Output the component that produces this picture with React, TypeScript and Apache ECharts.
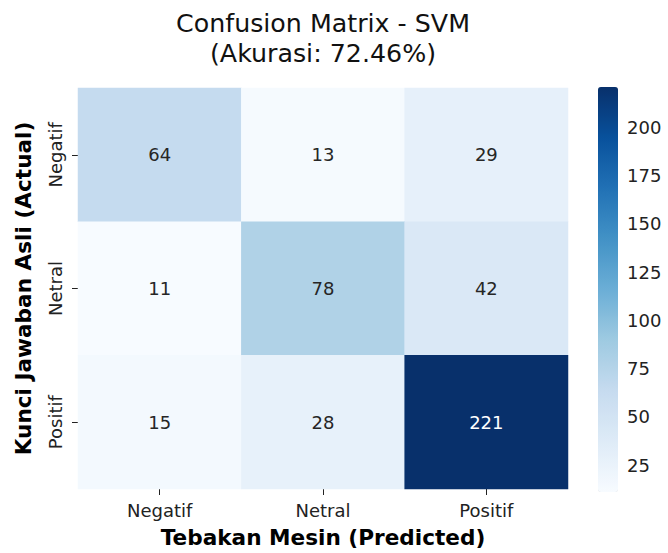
import React, { useEffect, useRef } from "react";
import * as echarts from "echarts";

const predictedLabels = ["Negatif", "Netral", "Positif"];
const actualLabels = ["Negatif", "Netral", "Positif"];
const rowNegatif = [64, 13, 29];
const rowNetral = [11, 78, 42];
const rowPositif = [15, 28, 221];
const colorbarTicks = [25, 50, 75, 100, 125, 150, 175, 200];
const blues = ["#f7fbff", "#deebf7", "#c6dbef", "#9ecae1", "#6baed6", "#4292c6", "#2171b5", "#08519c", "#08306b"];

const FONT = "DejaVu Sans";

export default function App() {
  const ref = useRef<HTMLDivElement>(null);
  useEffect(() => {
    if (!ref.current) return;
    const chart = echarts.init(ref.current, null, { renderer: "svg" });
    const rows = [rowNegatif, rowNetral, rowPositif];
    const all = rows.flat();
    const vmin = Math.min(...all);
    const vmax = Math.max(...all);
    const data: any[] = [];
    rows.forEach((row, yi) => {
      row.forEach((v, xi) => {
        const dark = (v - vmin) / (vmax - vmin) > 0.6;
        data.push({ value: [xi, yi, v], label: { color: dark ? "#ffffff" : "#262626" } });
      });
    });
    chart.setOption({
      animation: false,
      backgroundColor: "#ffffff",
      title: {
        text: "Confusion Matrix - SVM\n(Akurasi: 72.46%)",
        left: 323,
        textAlign: "center",
        top: 8,
        padding: 0,
        textStyle: { fontFamily: FONT, fontSize: 25.3, lineHeight: 30, fontWeight: "normal", color: "#111" },
      },
      grid: [
        { left: 78, top: 88, width: 490, height: 404 },
        { left: 598, top: 87, width: 20, height: 405 },
      ],
      xAxis: [
        {
          type: "category",
          data: predictedLabels,
          gridIndex: 0,
          axisLine: { show: false },
          axisTick: { show: true, alignWithLabel: true, length: 6, lineStyle: { color: "#222" } },
          axisLabel: { fontFamily: FONT, fontSize: 18, color: "#222", margin: 12 },
          splitLine: { show: false },
          name: "Tebakan Mesin (Predicted)",
          nameLocation: "middle",
          nameGap: 37,
          nameTextStyle: { fontFamily: FONT, fontSize: 21.6, fontWeight: "bold", color: "#000" },
        },
        { type: "value", gridIndex: 1, show: false, min: 0, max: 1 },
      ],
      yAxis: [
        {
          type: "category",
          data: actualLabels,
          inverse: true,
          gridIndex: 0,
          axisLine: { show: false },
          axisTick: { show: true, alignWithLabel: true, length: 6, lineStyle: { color: "#222" } },
          axisLabel: { fontFamily: FONT, fontSize: 18, color: "#222", rotate: 90, margin: 14 },
          splitLine: { show: false },
          name: "Kunci Jawaban Asli (Actual)",
          nameLocation: "middle",
          nameGap: 44,
          nameRotate: 90,
          nameTextStyle: { fontFamily: FONT, fontSize: 21.6, fontWeight: "bold", color: "#000" },
        },
        {
          type: "value",
          gridIndex: 1,
          position: "right",
          min: vmin,
          max: vmax,
          axisLine: { show: false },
          splitLine: { show: false },
          axisTick: { show: true, length: 6, lineStyle: { color: "#222" }, customValues: colorbarTicks },
          axisLabel: { fontFamily: FONT, fontSize: 18, color: "#222", margin: 9, customValues: colorbarTicks },
        },
      ],
      visualMap: {
        type: "continuous",
        min: vmin,
        max: vmax,
        calculable: false,
        orient: "vertical",
        left: 598,
        top: 87,
        itemWidth: 20,
        itemHeight: 405,
        padding: 0,
        seriesIndex: 0,
        inRange: { color: blues },
      },
      series: [
        {
          type: "heatmap",
          xAxisIndex: 0,
          yAxisIndex: 0,
          data,
          label: { show: true, fontFamily: FONT, fontSize: 18 },
          itemStyle: { borderWidth: 0 },
          emphasis: { disabled: true },
        },
      ],
    });
    return () => chart.dispose();
  }, []);
  return <div ref={ref} style={{ width: 668, height: 553, position: "absolute", left: 0, top: 0 }} />;
}
